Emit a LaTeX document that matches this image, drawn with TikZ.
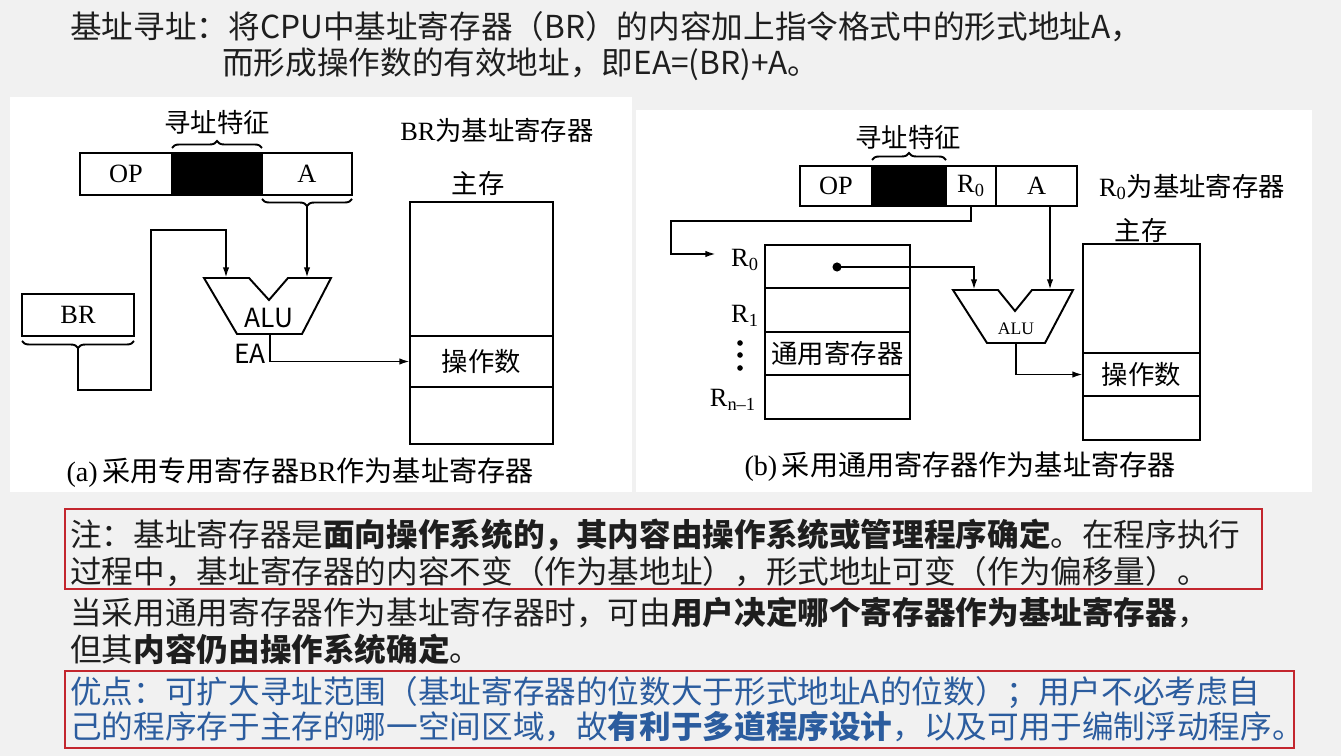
\documentclass[tikz,border=0pt]{standalone}
\usepackage{fontspec}
\setmainfont{Liberation Serif}
\newfontfamily\cjk{Noto Sans CJK SC}
\usetikzlibrary{arrows.meta,decorations.pathreplacing}
\definecolor{bgc}{HTML}{F1F1F1}
\definecolor{txt}{HTML}{1E1E1E}
\definecolor{redbox}{HTML}{C3262E}
\definecolor{bluetxt}{HTML}{2B5C9E}
\begin{document}
\begin{tikzpicture}[x=0.02cm,y=-0.02cm,
  fig/.style={line width=1.1pt},
  arr/.style={-{Latex[length=6pt,width=3.6pt]}},
  cell/.style={draw, line width=1.1pt, inner sep=0pt, outer sep=0pt},
  lbl/.style={inner sep=0pt, font=\fontsize{15pt}{18pt}\selectfont},
  captxt/.style={inner sep=0pt, font=\fontsize{16pt}{18pt}\selectfont},
  cj/.style={inner sep=0pt, font=\fontsize{15pt}{18pt}\selectfont\cjk},
  body/.style={anchor=west, inner sep=0pt, text=txt, font=\fontsize{18pt}{20pt}\selectfont\cjk},
  brc/.style={decorate, decoration={brace, amplitude=4pt}, line width=1.1pt}]
% background
\fill[bgc] (0,0) rectangle (1341,756);
\useasboundingbox (0,0) rectangle (1341,756);
\fill[white] (10,97) rectangle (632,492);
\fill[white] (636,110) rectangle (1312,492);

% top text
\node[body] (t1) at (70,27) {基址寻址：将CPU中基址寄存器（BR）的内容加上指令格式中的形式地址A，};
\node[body] (t2) at (222,64) {而形成操作数的有效地址，即EA=(BR)+A。};

% ---------------- (a) ----------------
\node[cell, minimum width=1.84cm, minimum height=0.84cm] (opa) at (126,174) {};
\node[cell, fill=black, minimum width=1.8cm, minimum height=0.84cm] (blka) at (217,174) {};
\node[cell, minimum width=1.8cm, minimum height=0.84cm] (aa) at (307,174) {};
\node[lbl] at (opa) {OP};
\node[lbl] at (aa) {A};
\draw[brc] (172,148) -- (262,148);
\node[cj] (tza) at (217,122) {寻址特征};
\draw[brc] (352,199) -- (262,199);
\coordinate (abr) at (307,206);

\node[cell, minimum width=2.24cm, minimum height=0.84cm] (bra) at (78,315) {};
\node[lbl] at (bra) {BR};
\draw[brc] (134,341) -- (22,341);
\coordinate (brbr) at (78,348);

% ALU (a)
\draw[fig, line join=miter] (204,278) -- (249,278) -- (269,300) -- (288,278) -- (331,278) -- (302,334) -- (237,334) -- cycle;
\node[inner sep=0pt, font=\fontsize{15pt}{18pt}\selectfont\cjk] (alua) at (269,318) {ALU};
\coordinate (alua-in1) at (226,278);
\coordinate (alua-in2) at (307,278);
\coordinate (alua-out) at (270,334);
\node[cj] (ea) at (250,354) {EA};

% memory (a)
\node[cell, minimum width=2.86cm, minimum height=2.68cm] (memtopa) at (481.5,269) {};
\node[cell, minimum width=2.86cm, minimum height=1.02cm] (memopa) at (481.5,361.5) {};
\node[cell, minimum width=2.86cm, minimum height=1.14cm] (membota) at (481.5,415.5) {};
\node[cj] at (memopa) {操作数};
\node[cj] (zca) at (478,183) {主存};
\node[lbl] (bra-note) at (497,130) {BR{\cjk 为基址寄存器}};

% connectors (a)
\draw[fig, arr] (abr) -- (alua-in2);
\draw[fig, arr] (brbr) -- (78,390) -- (151,390) -- (151,230) -- (226,230) -- (alua-in1);
\draw[fig, arr] (alua-out) |- (memopa.west);

\node[captxt] (capa) at (300,473) {(a)\,{\cjk 采用专用寄存器}BR{\cjk 作为基址寄存器}};

% ---------------- (b) ----------------
\node[cell, minimum width=1.44cm, minimum height=0.8cm] (opb) at (836,186) {};
\node[cell, fill=black, minimum width=1.48cm, minimum height=0.8cm] (blkb) at (909,186) {};
\node[cell, minimum width=1.0cm, minimum height=0.8cm] (r0b) at (971,186) {};
\node[cell, minimum width=1.62cm, minimum height=0.8cm] (ab) at (1036.5,186) {};
\node[lbl] at (opb) {OP};
\node[lbl] at (r0b) {R\textsubscript{0}};
\node[lbl] at (ab) {A};
\draw[brc] (872,160) -- (946,160);
\node[cj] (tzb) at (908,137) {寻址特征};
\node[lbl] (r0note) at (1192,187) {R\textsubscript{0}{\cjk 为基址寄存器}};

% register file
\node[cell, minimum width=2.9cm, minimum height=0.86cm] (reg0) at (837.5,266.5) {};
\node[cell, minimum width=2.9cm, minimum height=0.88cm] (reg1) at (837.5,310) {};
\node[cell, minimum width=2.9cm, minimum height=0.86cm] (reg2) at (837.5,353.5) {};
\node[cell, minimum width=2.9cm, minimum height=0.88cm] (reg3) at (837.5,397) {};
\node[cj] at (reg2) {通用寄存器};
\node[lbl] (r0lab) at (745,260) {R\textsubscript{0}};
\node[lbl] (r1lab) at (745,316) {R\textsubscript{1}};
\node[lbl] (rnlab) at (733,400) {R\textsubscript{n\textendash1}};
\fill (740,343) circle (1.6pt);
\fill (740,355) circle (1.6pt);
\fill (740,368) circle (1.6pt);
\coordinate (r0in) at (716,254);
\fill (837,267) circle (2.6pt);
\coordinate (dotb) at (837,267);

% ALU (b)
\draw[fig, line join=miter] (953,290) -- (998,290) -- (1015,311) -- (1032,290) -- (1073,290) -- (1045,343) -- (987,343) -- cycle;
\node[inner sep=0pt, font=\fontsize{10pt}{12pt}\selectfont] (alub) at (1016,329) {ALU};
\coordinate (alub-in1) at (974,290);
\coordinate (alub-in2) at (1050,290);
\coordinate (alub-out) at (1016,343);
\coordinate (abo) at (1050,206);

% memory (b)
\node[cell, minimum width=2.34cm, minimum height=2.18cm] (memtopb) at (1141.5,298.5) {};
\node[cell, minimum width=2.34cm, minimum height=0.86cm] (memopb) at (1141.5,374.5) {};
\node[cell, minimum width=2.34cm, minimum height=0.88cm] (membotb) at (1141.5,418) {};
\node[cj] at (memopb) {操作数};
\node[cj] (zcb) at (1141,230) {主存};

% connectors (b)
\draw[fig, arr] (r0b.south) |- (671,221) |- (r0in);
\draw[fig, arr] (dotb) -| (alub-in1);
\draw[fig, arr] (abo) -- (alub-in2);
\draw[fig, arr] (alub-out) |- (memopb.west);

\node[captxt] (capb) at (960,467) {(b)\,{\cjk 采用通用寄存器作为基址寄存器}};

% ---------------- bottom text ----------------
\draw[redbox, line width=1.2pt] (65,509) rectangle (1262,589);
\node[body] (n1) at (70,535) {注：基址寄存器是{\bfseries 面向操作系统的，其内容由操作系统或管理程序确定}。在程序执行};
\node[body] (n2) at (70,572) {过程中，基址寄存器的内容不变（作为基地址），形式地址可变（作为偏移量）。};
\node[body] (n3) at (70,612) {当采用通用寄存器作为基址寄存器时，可由{\bfseries 用户决定哪个寄存器作为基址寄存器}，};
\node[body] (n4) at (70,649) {但其{\bfseries 内容仍由操作系统确定}。};
\draw[redbox, line width=1.2pt] (65,671) rectangle (1294,748);
\node[body, text=bluetxt] (n5) at (70,693) {优点：可扩大寻址范围（基址寄存器的位数大于形式地址A的位数）；用户不必考虑自};
\node[body, text=bluetxt] (n6) at (70,727) {己的程序存于主存的哪一空间区域，故{\bfseries 有利于多道程序设计}，以及可用于编制浮动程序。};
\end{tikzpicture}
\end{document}
